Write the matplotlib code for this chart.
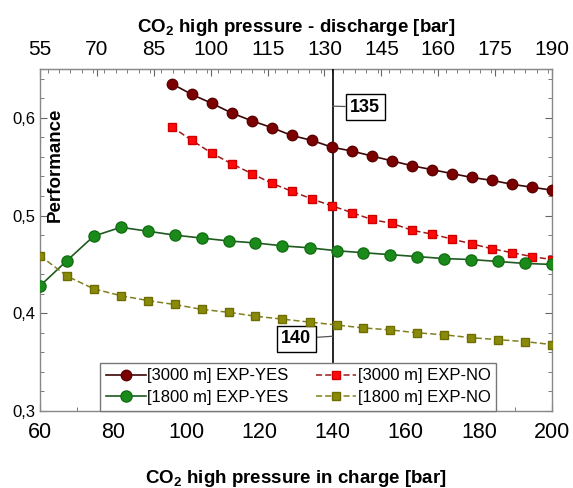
import numpy as np
import matplotlib
matplotlib.use("Agg")
import matplotlib.pyplot as plt
from matplotlib.ticker import MultipleLocator, FixedLocator, FuncFormatter

plt.rcParams['font.family'] = ['Liberation Sans', 'DejaVu Sans']
plt.rcParams['mathtext.fontset'] = 'custom'
plt.rcParams['mathtext.rm'] = 'Liberation Sans'
plt.rcParams['mathtext.bf'] = 'Liberation Sans:bold'

# charge pressure [bar] for the 3000 m and 1800 m runs
x_3000 = [96.0, 101.5, 106.9, 112.4, 117.9, 123.4, 128.8, 134.3, 139.8, 145.3,
          150.7, 156.2, 161.7, 167.2, 172.6, 178.1, 183.6, 189.1, 194.5, 200.0]
x_1800 = [60.0, 67.4, 74.7, 82.1, 89.5, 96.8, 104.2, 111.6, 118.9, 126.3,
          133.7, 141.1, 148.4, 155.8, 163.2, 170.5, 177.9, 185.3, 192.6, 200.0]

perf_3000_yes = [0.635, 0.624, 0.615, 0.605, 0.597, 0.590, 0.582, 0.577, 0.570, 0.566,
                 0.561, 0.556, 0.551, 0.547, 0.543, 0.539, 0.536, 0.532, 0.529, 0.526]
perf_3000_no = [0.591, 0.577, 0.564, 0.553, 0.543, 0.533, 0.525, 0.517, 0.510, 0.503,
                0.496, 0.492, 0.485, 0.481, 0.476, 0.471, 0.466, 0.462, 0.458, 0.455]
perf_1800_yes = [0.428, 0.454, 0.479, 0.488, 0.484, 0.480, 0.477, 0.474, 0.472, 0.469,
                 0.467, 0.464, 0.462, 0.460, 0.458, 0.456, 0.455, 0.453, 0.451, 0.450]
perf_1800_no = [0.459, 0.438, 0.425, 0.418, 0.413, 0.409, 0.404, 0.401, 0.397, 0.394,
                0.391, 0.388, 0.385, 0.383, 0.380, 0.378, 0.375, 0.373, 0.371, 0.368]

labels = ["[3000 m] EXP-YES", "[1800 m] EXP-YES", "[3000 m] EXP-NO", "[1800 m] EXP-NO"]

# discharge pressure ticks on the top axis
discharge_ticks = [55, 70, 85, 100, 115, 130, 145, 160, 175, 190]

# selected operating point
x_sel = 140
sel_charge = "140"
sel_discharge = "135"


def to_discharge(x):
    return 55 + (np.asarray(x) - 60) * 135 / 140


def to_charge(x):
    return 60 + (np.asarray(x) - 55) * 140 / 135


fig = plt.figure(figsize=(5.73, 4.88), dpi=100)
ax = fig.add_axes([0.0698, 0.1578, 0.8936, 0.7008])

dash = (0, (4, 2))
l1, = ax.plot(x_3000, perf_3000_yes, '-', color='#3c0606', lw=1.2, marker='o', ms=7.5,
              mfc='#7d0000', mec='#5a0000', zorder=4)
l3, = ax.plot(x_3000, perf_3000_no, linestyle=dash, color='#9a1a1a', lw=1.1, marker='s', ms=6,
              mfc='#ff0a0a', mec='#cc0000', zorder=4)
l2, = ax.plot(x_1800, perf_1800_yes, '-', color='#1f5a1f', lw=1.2, marker='o', ms=8,
              mfc='#1a8a1a', mec='#137013', zorder=4)
l4, = ax.plot(x_1800, perf_1800_no, linestyle=dash, color='#7f7f20', lw=1.1, marker='s', ms=6,
              mfc='#8a8a0a', mec='#6e6e00', zorder=4)

ax.axvline(x_sel, color='black', lw=1.2, zorder=3)

box = dict(boxstyle='square,pad=0.25', fc='white', ec='black', lw=1)
ax.annotate(sel_discharge, xy=(x_sel, 0.612), xytext=(148.9, 0.611), fontsize=13,
            fontweight='bold', ha='center', va='center', bbox=box,
            arrowprops=dict(arrowstyle='-', color='#555555', lw=0.9, shrinkA=0, shrinkB=0))
ax.annotate(sel_charge, xy=(x_sel, 0.3765), xytext=(130.1, 0.374), fontsize=13,
            fontweight='bold', ha='center', va='center', bbox=box,
            arrowprops=dict(arrowstyle='-', color='#555555', lw=0.9, shrinkA=0, shrinkB=0))

ax.set_xlim(60, 200)
ax.set_ylim(0.3, 0.65)
ax.xaxis.set_major_locator(MultipleLocator(20))
ax.xaxis.set_minor_locator(MultipleLocator(10))
ax.yaxis.set_major_locator(MultipleLocator(0.1))
ax.yaxis.set_minor_locator(MultipleLocator(0.02))
ax.yaxis.set_major_formatter(FuncFormatter(lambda v, p: f"{v:.1f}".replace('.', ',')))
ax.tick_params(axis='x', which='both', direction='in', top=False, labelsize=15.5,
               color='#666666', pad=8)
ax.tick_params(axis='y', which='both', direction='in', right=True, labelsize=12,
               color='#666666', pad=3)
ax.tick_params(which='major', length=5)
ax.tick_params(which='minor', length=3)
for s in ax.spines.values():
    s.set_color('#888888')
    s.set_linewidth(1.0)

top = ax.secondary_xaxis('top', functions=(to_discharge, to_charge))
top.xaxis.set_major_locator(FixedLocator(discharge_ticks))
top.xaxis.set_minor_locator(MultipleLocator(3))
top.tick_params(which='both', direction='in', labelsize=15, color='#666666', pad=7)
top.tick_params(which='major', length=5)
top.tick_params(which='minor', length=3)
top.spines['top'].set_color('#888888')
top.set_xlabel(r'CO$_\mathbf{2}$ high pressure - discharge [bar]', fontsize=13.5,
               fontweight='bold', labelpad=6)

ax.set_xlabel(r'CO$_\mathbf{2}$ high pressure in charge [bar]', fontsize=13.5,
              fontweight='bold', labelpad=18)
ax.text(0.029, 0.72, 'Performance', transform=ax.transAxes, rotation=90, fontsize=13.5,
        fontweight='bold', ha='center', va='center')

leg = ax.legend([l1, l2, l3, l4], labels, ncol=2, loc='lower left',
                bbox_to_anchor=(0.117, 0.0, 0.774, 0.158), mode='expand', borderaxespad=0,
                fontsize=12, handlelength=2.4, handletextpad=0.1, columnspacing=1.2,
                labelspacing=0.4, borderpad=0.35, fancybox=False, framealpha=1,
                edgecolor='#777777')
leg.get_frame().set_linewidth(1.0)
leg.set_zorder(6)

fig.savefig('out.png', dpi=100)
